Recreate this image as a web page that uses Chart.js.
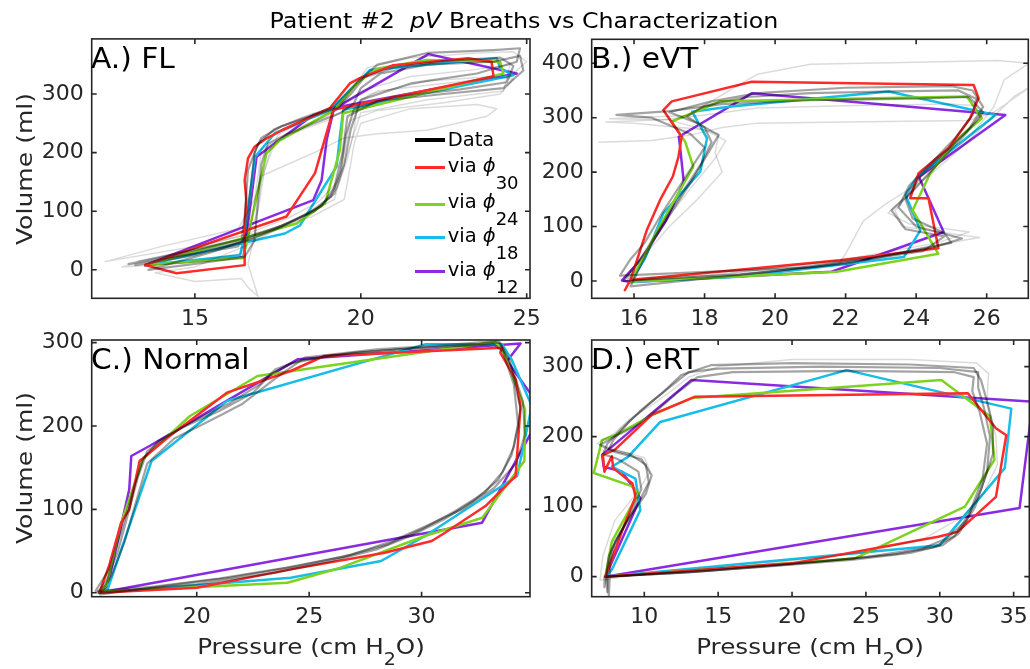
<!DOCTYPE html>
<html>
<head>
<meta charset="utf-8">
<script src="https://cdn.jsdelivr.net/npm/chart.js@4.4.1/dist/chart.umd.min.js"></script>
<style>
  body { margin: 0; background: #fff; width: 1030px; height: 669px; overflow: hidden; position: relative;
         font-family: "DejaVu Sans", sans-serif; color: #000; }
  canvas { position: absolute; }
  .txt { position: absolute; white-space: nowrap; line-height: 1; }
  .panel { font-size: 28px; transform-origin: left center; transform: scaleX(1.06); }
  .ytitle { font-size: 22px; color: #262626; transform: translate(-50%, -50%) rotate(-90deg) scaleX(1.14); }
  .xtitle { font-size: 22px; color: #262626; transform: translateX(-50%) scaleX(1.12); }
  .xtitle span { font-size: 17px; vertical-align: -11px; }
  .legline { position: absolute; width: 30px; height: 3px; }
  .legtxt { position: absolute; white-space: nowrap; line-height: 1; font-size: 19.5px; }
  .legtxt span { font-size: 18px; vertical-align: -17px; }
</style>
</head>
<body>
<canvas id="chartA" width="545" height="332" style="left:0;top:0;width:545px;height:332px"></canvas>
<canvas id="chartB" width="508" height="332" style="left:522px;top:0;width:508px;height:332px"></canvas>
<canvas id="chartC" width="545" height="349" style="left:0;top:320px;width:545px;height:349px"></canvas>
<canvas id="chartD" width="508" height="349" style="left:522px;top:320px;width:508px;height:349px"></canvas>

<div class="txt" style="left:524px;top:10px;font-size:22px;transform:translateX(-50%) scaleX(1.08)">Patient #2&nbsp; <i>pV</i> Breaths vs Characterization</div>

<div class="txt panel" style="left:91px;top:45px">A.) FL</div>
<div class="txt panel" style="left:591px;top:45px">B.) eVT</div>
<div class="txt panel" style="left:91px;top:346px">C.) Normal</div>
<div class="txt panel" style="left:591px;top:346px">D.) eRT</div>

<div class="txt ytitle" style="left:25px;top:169px">Volume (ml)</div>
<div class="txt ytitle" style="left:25px;top:468px">Volume (ml)</div>
<div class="txt xtitle" style="left:311px;top:636px">Pressure (cm H<span>2</span>O)</div>
<div class="txt xtitle" style="left:810px;top:636px">Pressure (cm H<span>2</span>O)</div>

<!-- legend of panel A -->
<div class="legline" style="left:415px;top:138.3px;height:4px;background:#000"></div>
<div class="legtxt" style="left:447.7px;top:130.2px">Data</div>
<div class="legline" style="left:415px;top:166.3px;background:#ff2b2b"></div>
<div class="legtxt" style="left:447.7px;top:155.8px">via <i>ϕ</i><span>30</span></div>
<div class="legline" style="left:415px;top:202.6px;background:#7ed321"></div>
<div class="legtxt" style="left:447.7px;top:192.1px">via <i>ϕ</i><span>24</span></div>
<div class="legline" style="left:415px;top:236.3px;background:#17bde6"></div>
<div class="legtxt" style="left:447.7px;top:225.8px">via <i>ϕ</i><span>18</span></div>
<div class="legline" style="left:415px;top:270.3px;background:#8a2be2"></div>
<div class="legtxt" style="left:447.7px;top:259.8px">via <i>ϕ</i><span>12</span></div>

<script>
// [pressure (cm H2O), volume (ml)] pairs

// tick labels
const flPTicks = [15, 20, 25];
const flVTicks = [0, 100, 200, 300];
const evtPTicks = [16, 18, 20, 22, 24, 26];
const evtVTicks = [0, 100, 200, 300, 400];
const nrmPTicks = [20, 25, 30];
const nrmVTicks = [0, 100, 200, 300];
const ertPTicks = [10, 15, 20, 25, 30, 35];
const ertVTicks = [0, 100, 200, 300];

// A.) FL
const flData1 = [[13.2,8],[14.5,22],[16.3,40],[16.55,60],[16.6,100],[16.7,150],[16.8,200],[17.0,225],[17.6,245],[18.5,262],[19.3,276],[19.7,300],[20.1,328],[21,345],[22.5,356],[24.2,362],[24.6,348],[24.4,320],[23,308],[21,295],[19.8,275],[19.55,230],[19.4,170],[19.1,125],[18.4,95],[17.5,70],[16.5,48],[15,25],[13.2,8]];
const flData2 = [[13.6,0],[15,10],[16.5,22],[16.8,50],[16.9,120],[17.0,180],[17.2,215],[17.8,232],[18.6,250],[19.4,268],[19.8,285],[20.0,310],[20.6,335],[22,350],[24,355],[24.8,365],[24.9,340],[24.3,310],[22.5,300],[20.5,288],[19.6,262],[19.45,200],[19.2,140],[18.8,108],[18,85],[17,60],[15.5,30],[13.6,0]];
const flData3 = [[13.0,10],[15,28],[16.4,48],[16.5,90],[16.6,170],[16.9,215],[17.4,240],[18.2,258],[19.2,278],[19.9,320],[20.5,350],[22,370],[24,375],[24.8,378],[24.7,355],[23.5,335],[21.5,318],[20,290],[19.7,240],[19.5,180],[19.2,130],[18.6,100],[17.6,75],[16.4,52],[14.5,28],[13,10]];
const flGray1 = [[12.3,14],[14,40],[16.3,70],[16.8,120],[17.0,160],[18.6,200],[19.5,225],[20.5,232],[22,238],[23.8,262],[24.1,275],[23.5,282],[21.5,275],[20,250],[19.8,215],[19.6,150],[19.5,120],[18.5,90],[17,65],[15,40],[12.3,14]];
const flGray2 = [[13.8,-5],[15,-20],[16.4,-15],[16.6,-30],[16.9,-45],[16.6,10],[16.8,60],[17.0,150],[17.3,210],[18,240],[19,262],[20,305],[21.5,330],[23.5,342],[24.5,350],[24.3,305],[22,290],[20,268],[19.5,180],[19.2,120],[18,85],[16.5,40],[15,5],[13.8,-5]];
const flGray3 = [[13.3,15],[15,35],[16.6,55],[16.9,100],[17.1,170],[17.5,230],[18.3,255],[19.0,268],[19.5,290],[20.2,345],[21.5,362],[23.5,370],[24.6,372],[25.0,355],[24.5,330],[22.5,318],[20.5,305],[19.9,285],[19.8,240],[19.6,190],[19.3,140],[18.8,110],[17.8,80],[16.6,55],[15,32],[13.3,15]];
const flGray4 = [[12.8,5],[14.8,12],[16.4,28],[16.7,80],[16.9,160],[17.0,205],[17.8,230],[19,255],[19.6,275],[20.3,300],[22,322],[24,330],[24.6,325],[24.2,300],[22.5,285],[20.5,272],[19.7,255],[19.5,200],[19.3,150],[18.7,115],[17.8,88],[16.5,60],[14.6,30],[12.8,5]];
const flPhi30 = [[13.5,8],[14.45,-6],[16.5,8],[16.5,74],[16.55,119],[16.5,153],[16.6,190],[16.8,210],[17.15,224],[17.65,239],[19.07,276],[19.67,318],[19.97,327],[20.98,349],[23.24,361],[23.94,355],[24.0,330],[19.17,273],[18.62,165],[17.76,91],[13.5,8]];
const flPhi24 = [[13.5,8],[16.46,20],[16.86,125],[17.16,199],[17.56,221],[18.57,253],[19.22,273],[19.87,318],[20.48,343],[21.98,358],[24.2,355],[24.3,335],[19.47,267],[19.37,204],[18.92,113],[18.07,79],[13.5,8]];
const flPhi18 = [[13.5,8],[16.36,25],[16.5,60],[16.81,193],[17.41,233],[19.07,273],[20.28,341],[24.1,361],[24.2,344],[24.6,332],[19.47,273],[19.37,227],[19.27,176],[18.17,76],[17.71,62],[13.5,8]];
const flPhi12 = [[13.5,8],[18.57,119],[18.82,153],[18.97,221],[19.17,270],[19.47,284],[22.04,368],[24.7,335],[19.17,276],[18.57,264],[16.86,193],[16.5,34],[16.46,22],[13.5,8]];

// B.) eVT
const evtData1 = [[15.7,0],[16.0,25],[16.4,60],[16.9,115],[17.4,165],[17.9,215],[18.2,255],[18.0,282],[17.5,302],[18.0,322],[19.2,338],[21,345],[23,348],[25.2,350],[25.7,335],[25.6,305],[25.1,262],[24.5,222],[23.8,175],[23.5,135],[24.0,100],[25.3,78],[24.5,62],[22,32],[19,12],[15.7,0]];
const evtData2 = [[15.9,-10],[16.2,30],[16.6,80],[17.1,130],[17.6,180],[18.1,235],[18.4,268],[17.8,290],[17.0,310],[18.2,330],[19.5,345],[22,355],[25,358],[25.6,350],[25.9,320],[25.5,280],[24.8,235],[24.1,190],[23.7,150],[23.9,115],[24.8,88],[25.0,70],[23,45],[20,18],[15.9,-10]];
const evtData3 = [[15.6,10],[15.9,40],[16.3,70],[16.8,125],[17.3,175],[17.7,215],[18.0,245],[17.6,270],[16.5,300],[15.5,305],[17.0,312],[18.5,325],[21,332],[24,335],[25.5,338],[25.9,310],[25.4,270],[24.6,215],[23.9,165],[23.3,130],[23.7,95],[24.8,82],[24.2,55],[21,25],[15.6,10]];
const evtGray1 = [[15.8,0],[16.2,40],[17,100],[17.8,150],[18.5,200],[18.3,235],[18.4,270],[17,296],[15.3,298],[17.5,304],[19.5,380],[21,398],[24,402],[26.3,405],[27.2,400],[26.5,370],[26.2,320],[25.6,270],[24.8,225],[24.1,180],[23.4,130],[23.6,100],[25.2,85],[25.8,80],[24.5,65],[22.5,40],[18,10],[15.8,0]];
const evtGray2 = [[15.0,255],[16.5,258],[17.6,268],[18.5,282],[19.5,290],[22,292],[25.5,295],[26.2,310],[27.2,355],[26.8,340],[26.0,290],[25.2,240],[24.3,190],[23.1,140],[22.5,110],[22.0,50],[21.8,30],[19,12],[16,2]];
const evtGray3 = [[15.8,5],[16.1,35],[16.5,75],[17,120],[17.6,170],[18.3,225],[18.6,258],[18.0,278],[16.0,290],[15.2,292],[16.8,296],[18,305],[19.5,318],[22,322],[25,325],[25.7,322],[25.8,300],[25.3,265],[24.6,225],[24.0,185],[23.6,150],[23.2,125],[23.8,105],[25.5,90],[24.6,70],[22,40],[18.5,12],[15.8,5]];
const evtPhi30 = [[15.74,-17],[15.9,2],[16.36,93],[16.74,149],[17.1,192],[17.26,228],[17.35,265],[16.83,314],[17.07,330],[19.34,366],[25.63,360],[25.77,336],[25.53,299],[24.92,244],[24.07,198],[23.83,152],[24.35,152],[24.63,60],[21.84,38],[15.9,2]];
const evtPhi24 = [[15.9,-1],[16.4,60],[16.9,120],[17.68,210],[17.45,256],[17.07,293],[18.44,330],[25.44,339],[25.86,299],[25.15,259],[24.4,198],[23.9,130],[24.63,50],[21.75,17],[15.9,-1]];
const evtPhi18 = [[15.9,-2],[16.3,40],[16.83,124],[17.88,201],[18.07,262],[17.65,311],[18.69,320],[23.22,348],[26.25,305],[24.03,191],[23.7,158],[24.12,93],[23.65,44],[19,8],[15.9,-2]];
const evtPhi12 = [[15.66,1],[16.2,40],[16.9,110],[17.41,182],[17.3,250],[17.27,265],[19.35,345],[26.53,305],[24.08,191],[24.78,90],[21.6,17],[15.9,-2],[15.66,1]];

// C.) Normal
const nrmData1 = [[15.6,0],[16.0,15],[16.5,50],[17.0,100],[17.4,140],[17.8,170],[18.8,190],[20,208],[21.5,228],[22.8,250],[23.5,268],[24.5,278],[27,288],[30,294],[33.2,298],[33.6,290],[34.1,250],[34.3,200],[34.0,165],[33.4,135],[32.3,110],[31,88],[29.5,68],[28,52],[26,38],[23.5,24],[20,10],[16.5,2],[15.6,0]];
const nrmData2 = [[15.5,2],[16.1,28],[16.6,70],[17.2,125],[17.6,160],[18.3,182],[19.5,200],[21,218],[22.5,240],[23.3,262],[24.2,275],[26,285],[29,292],[32,297],[33.5,300],[34.0,270],[34.4,220],[34.1,175],[33.6,145],[32.8,120],[31.5,98],[30,76],[28.5,58],[26.5,43],[24,30],[21,17],[18,7],[15.5,2]];
const nrmData3 = [[15.7,-2],[16.2,20],[16.8,62],[17.4,118],[17.8,155],[19,185],[20.5,205],[22,226],[23.4,255],[24.8,282],[28,292],[31,297],[33.4,302],[33.9,280],[34.5,230],[34.6,190],[34.2,155],[33.2,125],[31.8,100],[30.2,80],[28.7,62],[26.8,45],[24.5,32],[21.5,18],[18,6],[15.7,-2]];
const nrmPhi30 = [[15.67,0],[20,6],[24.18,28],[28.36,48],[30.45,62],[31.04,72],[32.84,104],[34.18,140],[34.4,224],[34.18,256],[33.5,288],[33.57,294],[25.67,284],[24.18,266],[21.34,240],[18.8,188],[17.46,158],[17.0,100],[16.64,84],[16.1,32],[15.67,0]];
const nrmPhi24 = [[15.7,1],[24.03,12],[26.4,30],[30.15,68],[32.7,90],[34.57,158],[34.6,220],[33.6,292],[33.28,301],[22.7,260],[19.7,212],[17.6,160],[16.6,80],[16.0,10],[15.7,1]];
const nrmPhi18 = [[15.8,0],[24.18,18],[28.2,38],[30.15,68],[34.25,140],[34.9,224],[34.0,280],[33.58,298],[30.15,298],[21.34,230],[17.99,158],[17.46,116],[16.04,4],[15.8,0]];
const nrmPhi12 = [[15.67,0],[32.69,84],[35.4,218],[33.8,278],[34.4,299],[24.48,280],[21.2,228],[17.9,176],[17.09,164],[17.0,124],[16.04,8],[15.67,0]];

// D.) eRT
const ertData1 = [[7.5,-22],[7.4,0],[12,5],[18,14],[24,24],[28,34],[30.2,45],[31.3,62],[32.4,100],[33.2,150],[33.4,200],[33.0,240],[32.6,270],[32.6,292],[30,298],[22,300],[15,297],[13,292],[11.8,272],[10.5,250],[9,222],[7.9,195],[7.6,182],[9.0,175],[10.1,160],[10.3,135],[9.6,105],[8.6,70],[7.8,40],[7.5,10],[7.5,-22]];
const ertData2 = [[7.3,-15],[7.3,0],[13,6],[20,18],[25,28],[28.8,40],[30.5,55],[31.8,80],[32.8,125],[33.6,175],[33.6,215],[33.2,250],[32.8,280],[32.3,298],[28,303],[20,305],[14.5,302],[12.5,288],[11.2,262],[9.8,238],[8.4,210],[7.5,190],[7.2,175],[8.2,168],[9.6,150],[9.8,125],[9.2,95],[8.3,60],[7.6,30],[7.3,-15]];
const ertData3 = [[7.6,-28],[7.5,0],[14,8],[22,22],[27,32],[29.6,42],[31,58],[32,90],[32.9,140],[33.2,190],[32.7,235],[32.2,265],[32.3,285],[31,292],[24,294],[16,292],[13.6,285],[12.2,262],[11,240],[9.4,215],[8.0,200],[7.0,188],[8.0,178],[9.8,168],[10.5,145],[10.1,118],[9.0,85],[8.0,50],[7.7,20],[7.6,-28]];
const ertGray1 = [[7.0,-5],[7.2,30],[8,80],[9.5,120],[10.4,150],[10,170],[8,182],[6.8,190],[8,205],[9,225],[10.5,245],[12,268],[13,285],[15,300],[20,310],[28,310],[32.5,305],[33.3,290],[33.2,250],[33.8,200],[33.9,160],[33,120],[31.5,85],[29,55],[25,35],[18,18],[10,4],[7,-5]];
const ertPhi30 = [[7.36,0],[20,19],[29.9,57],[31.2,64],[33.8,114],[34.5,202],[33.8,212],[31.9,262],[13.45,257],[10.5,231],[8.0,181],[7.2,174],[7.3,150],[7.8,172],[7.9,155],[9.2,133],[9.4,114],[8.6,71],[7.36,0]];
const ertPhi24 = [[7.36,0],[24.26,26],[31.7,100],[33.7,167],[33.4,229],[30.1,281],[13.2,255],[10.74,233],[8.04,202],[7.14,195],[6.58,148],[9.2,129],[9.6,119],[7.8,50],[7.36,0]];
const ertPhi18 = [[7.36,0],[30,45],[34.4,155],[34.84,240],[23.7,295],[11.08,221],[8.9,171],[7.8,157],[9.4,140],[9.73,95],[7.8,10],[7.36,0]];
const ertPhi12 = [[7.36,0],[35.4,98],[36.3,250],[13.2,281],[7.14,174],[7.25,157],[8.5,150],[9.73,112],[7.36,0]];

const fitColors = ['#ff2b2b', '#7ed321', '#17bde6', '#8a2be2'];
const tickFont = { family: 'DejaVu Sans', size: 22 };

// box with inward ticks on all four sides
const frame = {
  id: 'frame',
  afterDraw(chart) {
    const { ctx, chartArea: a, scales: { x, y } } = chart;
    ctx.save();
    ctx.strokeStyle = '#262626';
    ctx.lineWidth = 1.6;
    ctx.strokeRect(a.left, a.top, a.right - a.left, a.bottom - a.top);
    ctx.beginPath();
    x.ticks.forEach(t => {
      const px = x.getPixelForValue(t.value);
      ctx.moveTo(px, a.bottom); ctx.lineTo(px, a.bottom - 5);
      ctx.moveTo(px, a.top); ctx.lineTo(px, a.top + 5);
    });
    y.ticks.forEach(t => {
      const py = y.getPixelForValue(t.value);
      ctx.moveTo(a.left, py); ctx.lineTo(a.left + 5, py);
      ctx.moveTo(a.right, py); ctx.lineTo(a.right - 5, py);
    });
    ctx.stroke();
    ctx.restore();
  }
};

function line(arr, color, width) {
  return {
    data: arr.map(([x, y]) => ({ x, y })),
    showLine: true,
    borderColor: color,
    borderWidth: width,
    borderJoinStyle: 'round',
    borderCapStyle: 'round',
    pointRadius: 0,
    fill: false,
    tension: 0
  };
}

function makePanel(id, p) {
  const datasets = [];
  p.gray.forEach(g => datasets.push(line(g, 'rgba(0,0,0,0.14)', 1.5)));
  p.data.forEach(d => datasets.push(line(d, 'rgba(0,0,0,0.36)', 2.2)));
  p.fits.forEach((f, i) => datasets.push(line(f, fitColors[i], 2.5)));

  new Chart(document.getElementById(id), {
    type: 'scatter',
    data: { datasets },
    options: {
      responsive: false,
      animation: false,
      events: [],
      layout: { autoPadding: false, padding: p.pad },
      plugins: { legend: { display: false }, tooltip: { enabled: false } },
      scales: {
        x: {
          type: 'linear', position: 'bottom', min: p.xr[0], max: p.xr[1],
          afterBuildTicks: s => { s.ticks = p.xt.map(v => ({ value: v })); },
          ticks: { font: tickFont, color: '#262626', padding: 7.5, maxRotation: 0, autoSkip: false },
          grid: { display: false, drawTicks: false },
          border: { display: false },
          afterFit: s => { s.height = p.xh; s.paddingLeft = 0; s.paddingRight = 0; }
        },
        y: {
          type: 'linear', position: 'left', min: p.yr[0], max: p.yr[1],
          afterBuildTicks: s => { s.ticks = p.yt.map(v => ({ value: v })); },
          ticks: { font: tickFont, color: '#262626', padding: 8, autoSkip: false },
          grid: { display: false, drawTicks: false },
          border: { display: false },
          afterFit: s => { s.width = p.yw; s.paddingTop = 0; s.paddingBottom = 0; }
        }
      }
    },
    plugins: [frame]
  });
}

makePanel('chartA', {
  gray: [flGray1, flGray2, flGray3, flGray4], data: [flData1, flData2, flData3],
  fits: [flPhi30, flPhi24, flPhi18, flPhi12],
  xr: [11.89, 25.1], yr: [-48.6, 394], xt: flPTicks, yt: flVTicks,
  pad: { left: 0, top: 38.9, right: 15, bottom: 0 }, yw: 91.7, xh: 33.7
});
makePanel('chartB', {
  gray: [evtGray1, evtGray2, evtGray3], data: [evtData1, evtData2, evtData3],
  fits: [evtPhi30, evtPhi24, evtPhi18, evtPhi12],
  xr: [14.8, 27.18], yr: [-31.8, 444], xt: evtPTicks, yt: evtVTicks,
  pad: { left: 0, top: 39.3, right: 1.7, bottom: 0 }, yw: 69.7, xh: 33.7
});
makePanel('chartC', {
  gray: [], data: [nrmData1, nrmData2, nrmData3],
  fits: [nrmPhi30, nrmPhi24, nrmPhi18, nrmPhi12],
  xr: [15.33, 34.82], yr: [-4.8, 303.2], xt: nrmPTicks, yt: nrmVTicks,
  pad: { left: 0, top: 20, right: 15, bottom: 0 }, yw: 91.7, xh: 72.3
});
makePanel('chartD', {
  gray: [ertGray1], data: [ertData1, ertData2, ertData3],
  fits: [ertPhi30, ertPhi24, ertPhi18, ertPhi12],
  xr: [6.44, 36.06], yr: [-28.6, 338], xt: ertPTicks, yt: ertVTicks,
  pad: { left: 0, top: 20, right: 0.7, bottom: 0 }, yw: 69.7, xh: 72.3
});
</script>
</body>
</html>
